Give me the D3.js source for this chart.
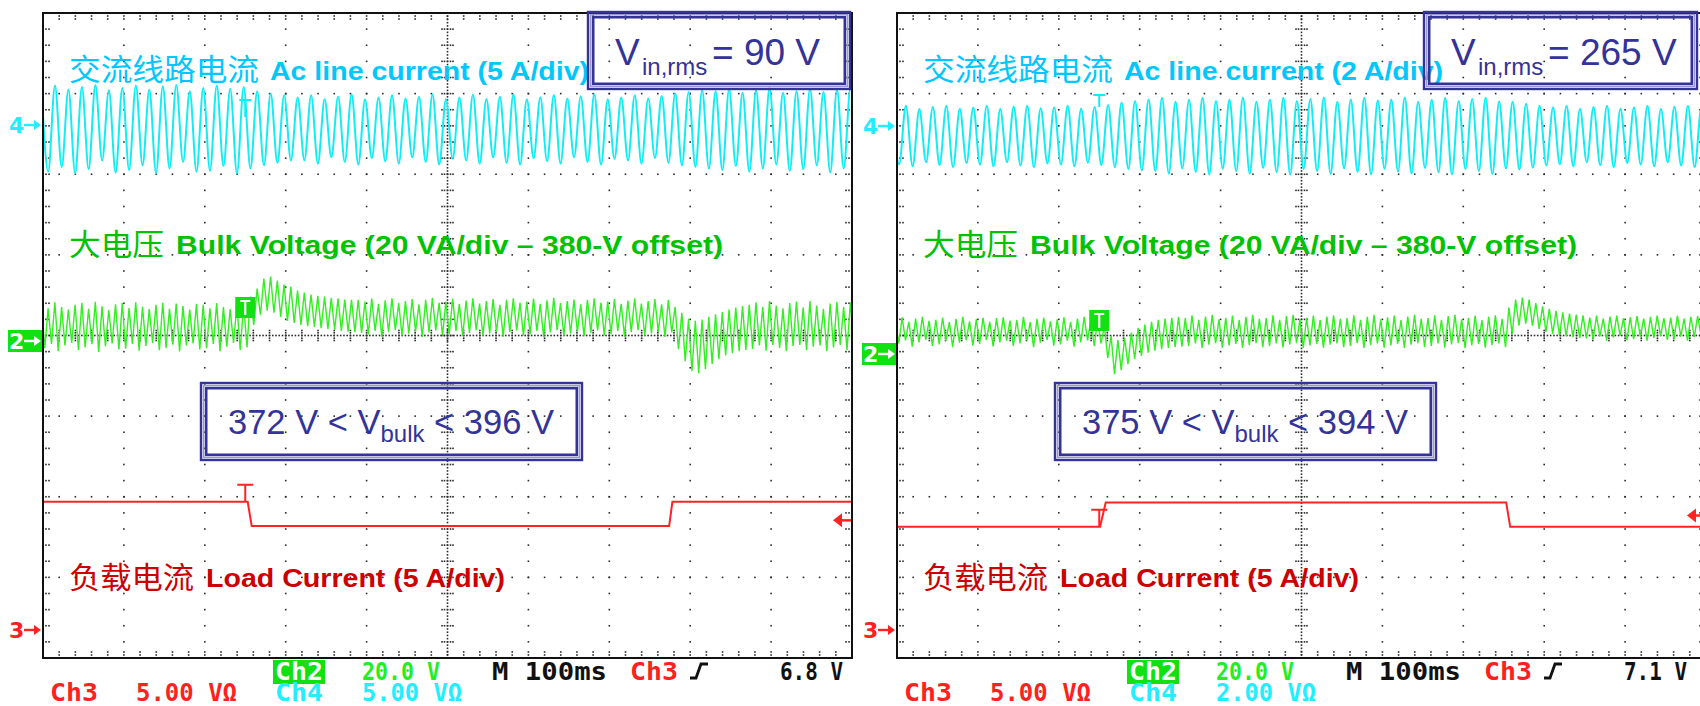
<!DOCTYPE html>
<html>
<head>
<meta charset="utf-8">
<script src="https://cdn.jsdelivr.net/npm/d3@7"></script>
<style>
  html, body { margin: 0; padding: 0; background: #fff; }
  svg { display: block; }
</style>
</head>
<body>
<svg id="scope" width="1700" height="706"></svg>
<script>
// ---------------- acquisition settings ----------------
const timeDomainMs = [0, 1000];          // 10 div x 100 ms
const triggerMs = 250;                   // trigger at 2.5 div
const lineFreqHz = 60;
const rippleFreqHz = 120;

const vinRms = [90, 265];                // V rms input
const acScaleA = [5, 2];                 // Ch4, A/div
const bulkScaleV = 20;                   // Ch2, V/div
const bulkOffsetV = 380;                 // Ch2 offset
const loadScaleA = 5;                    // Ch3, A/div
const trigLevel = [6.8, 7.1];            // Ch3 trigger level
const bulkRange = [[372, 396], [375, 394]];

// Ch4 line current: crest / trough per line cycle (A)
const acFirstPeakMs = [-1.9, -5.7];
const acPeaks90 = [2.30, 2.45, 2.20, 2.35, 2.48, 2.15, 2.30, 2.45, 2.20, 2.40, 2.48, 2.10, 2.30, 2.45, 2.25, 2.35,
  2.10, 1.95, 1.85,
  1.70, 1.85, 1.60, 1.75, 1.90, 1.60, 1.70, 1.85, 1.65, 1.75, 1.90, 1.60, 1.70, 1.88, 1.62, 1.75, 1.90, 1.60, 1.72, 1.86, 1.65, 1.78, 1.90, 1.60, 1.70, 1.85, 1.65, 1.80,
  1.95, 2.05, 2.15,
  2.10, 2.25, 2.00, 2.15, 2.30, 2.00, 2.10, 2.25, 2.05, 2.20, 2.30];
const acTroughs90 = [-2.90, -2.60, -3.00, -2.75, -2.20, -2.95, -2.80, -2.50, -3.00, -2.70, -2.30, -2.90, -2.85, -2.55, -3.00, -2.70,
  -2.50, -2.35, -2.20,
  -2.20, -2.40, -2.00, -2.30, -2.45, -2.05, -2.25, -2.40, -2.00, -2.30, -2.45, -2.10, -2.20, -2.40, -2.00, -2.35, -2.45, -2.05, -2.25, -2.40, -2.00, -2.30, -2.45, -2.10, -2.20, -2.40, -2.05, -2.35,
  -2.50, -2.60, -2.70,
  -2.80, -2.55, -2.90, -2.70, -2.45, -2.85, -2.75, -2.50, -2.95, -2.70, -2.60];
const acPeaks265 = [0.45, 0.50, 0.42, 0.47, 0.50, 0.43, 0.46, 0.50, 0.42, 0.48, 0.50, 0.44, 0.46, 0.50, 0.43, 0.47,
  0.52, 0.58, 0.62,
  0.66, 0.70, 0.60, 0.65, 0.70, 0.62, 0.66, 0.71, 0.60, 0.65, 0.70, 0.62, 0.67, 0.71, 0.60, 0.66, 0.70, 0.63, 0.66, 0.71, 0.60, 0.65, 0.70, 0.62, 0.67, 0.70, 0.61,
  0.60, 0.55, 0.50,
  0.46, 0.50, 0.42, 0.47, 0.50, 0.43, 0.46, 0.50, 0.42, 0.48, 0.50, 0.44];
const acTroughs265 = [-0.95, -1.00, -0.90, -0.97, -1.02, -0.92, -0.96, -1.00, -0.90, -0.98, -1.02, -0.93, -0.96, -1.00, -0.91, -0.97,
  -1.02, -1.07, -1.10,
  -1.12, -1.18, -1.05, -1.14, -1.20, -1.06, -1.12, -1.18, -1.04, -1.15, -1.20, -1.07, -1.12, -1.19, -1.05, -1.14, -1.20, -1.06, -1.13, -1.18, -1.04, -1.15, -1.20, -1.07, -1.12, -1.19, -1.05,
  -1.08, -1.03, -0.98,
  -0.95, -1.00, -0.90, -0.97, -1.02, -0.92, -0.96, -1.00, -0.90, -0.98, -1.02, -0.93];

// Ch2 bulk voltage: crest / trough per ripple cycle (V)
const bulkFirstPeakMs = [-2, -2];
const bulkPeaks90 = [389.2, 388.1, 389.6, 388.4, 387.8, 389.0, 389.5, 388.0, 389.7, 388.6, 387.7, 389.1, 389.4, 388.2, 389.6, 388.5, 387.9, 389.0, 389.5, 388.0, 389.3, 388.7, 387.8, 389.2, 389.0, 388.1, 389.4, 388.4, 387.9, 388.8, 389.1,
  391.0, 393.0, 395.5, 396.0, 395.0, 394.0, 393.5, 392.5, 392.0, 391.5, 391.2, 391.0, 390.7, 390.5, 390.3, 390.2, 390.2,
  389.8, 390.5, 389.2, 390.1, 390.6, 389.4, 389.9, 390.4, 389.1, 390.2, 390.7, 389.5, 389.8, 390.5, 389.2, 390.0, 390.6, 389.3, 389.9, 390.4, 389.0, 390.2, 390.6, 389.5, 389.8, 390.5, 389.2, 390.1, 390.7, 389.4, 389.9, 390.3, 389.1, 390.2, 390.6, 389.5, 389.8, 390.4, 389.2, 390.0, 390.6, 389.3, 389.9, 390.4, 389.1, 390.2,
  388.5, 387.0, 385.5, 385.0, 385.3, 386.0, 386.6, 387.2, 387.8, 388.3, 388.7, 389.0,
  389.6, 388.4, 389.9, 388.7, 388.1, 389.4, 389.8, 388.3, 389.9, 388.8, 388.0, 389.3, 389.7, 388.4, 389.6];
const bulkTroughs90 = [378.2, 379.3, 377.5, 378.9, 379.5, 377.8, 378.4, 379.2, 377.3, 378.7, 379.4, 377.9, 378.1, 379.3, 377.6, 378.8, 379.5, 377.7, 378.3, 379.1, 377.4, 378.9, 379.4, 377.9, 378.2, 379.3, 377.5, 378.6, 379.5, 377.8, 378.4,
  384.0, 386.5, 387.5, 387.0, 386.0, 385.0, 384.5, 384.0, 383.7, 383.5, 383.2, 383.0, 382.8, 382.5, 382.3, 382.2, 382.0,
  381.6, 382.5, 381.1, 382.2, 382.7, 381.3, 381.8, 382.4, 381.0, 382.1, 382.6, 381.4, 381.7, 382.5, 381.2, 382.0, 382.7, 381.3, 381.9, 382.3, 381.1, 382.2, 382.6, 381.4, 381.6, 382.5, 381.0, 382.1, 382.7, 381.3, 381.8, 382.4, 381.2, 382.0, 382.6, 381.4, 381.7, 382.5, 381.1, 382.2, 382.7, 381.3, 381.9, 382.3, 381.0, 382.1,
  378.0, 375.0, 372.5, 372.0, 373.0, 374.3, 375.5, 376.4, 377.0, 377.5, 377.8, 378.0,
  378.9, 377.6, 379.0, 378.3, 377.5, 378.8, 379.0, 377.7, 378.6, 378.9, 377.5, 378.4, 379.0, 377.8, 378.7];
const bulkPeaks265 = [388.6, 389.1, 388.0, 388.8, 389.2, 388.2, 388.5, 389.0, 387.9, 388.7, 389.2, 388.1, 388.6, 389.0, 388.0, 388.9, 389.1, 388.3, 388.5, 389.2, 387.9, 388.7, 389.0, 388.1, 388.6, 389.1, 388.0, 388.8, 389.2, 388.2, 388.5,
  387.0, 384.5, 383.5, 384.0, 385.3, 386.5, 387.3, 388.0, 388.5, 388.8, 389.0, 389.2,
  388.9, 389.6, 388.5, 389.3, 389.7, 388.6, 389.0, 389.5, 388.4, 389.2, 389.7, 388.7, 388.9, 389.6, 388.5, 389.4, 389.7, 388.6, 389.0, 389.5, 388.4, 389.3, 389.6, 388.7, 388.9, 389.6, 388.5, 389.2, 389.7, 388.6, 389.1, 389.5, 388.4, 389.3, 389.7, 388.7, 388.9, 389.6, 388.5, 389.4, 389.7, 388.6, 389.0, 389.5, 388.4, 389.2, 389.6, 388.7,
  391.5, 393.5, 394.0, 393.5, 392.6, 391.8, 391.2, 390.7, 390.3, 390.0, 389.8, 389.6,
  389.0, 389.5, 388.8, 389.3, 389.5, 388.9, 389.1, 389.4, 388.8, 389.2, 389.5, 388.9, 389.0, 389.5, 388.8, 389.3, 389.4, 388.9];
const bulkTroughs265 = [382.6, 383.4, 381.8, 382.9, 383.5, 382.0, 382.4, 383.3, 381.7, 382.8, 383.4, 382.1, 382.5, 383.5, 381.9, 382.9, 383.3, 382.0, 382.6, 383.4, 381.7, 382.8, 383.5, 382.1, 382.4, 383.3, 381.8, 382.9, 383.4, 382.0, 382.6,
  379.0, 375.0, 376.0, 377.5, 378.8, 379.5, 380.3, 380.8, 381.2, 381.5, 381.7, 381.8,
  382.0, 382.6, 381.5, 382.3, 382.7, 381.6, 382.1, 382.5, 381.5, 382.2, 382.7, 381.7, 382.0, 382.6, 381.6, 382.4, 382.7, 381.5, 382.1, 382.5, 381.6, 382.3, 382.6, 381.7, 382.0, 382.7, 381.5, 382.2, 382.6, 381.6, 382.1, 382.5, 381.5, 382.3, 382.7, 381.7, 382.0, 382.6, 381.6, 382.4, 382.7, 381.5, 382.1, 382.5, 381.6, 382.2, 382.6, 381.7,
  385.0, 387.0, 387.5, 387.0, 386.2, 385.5, 385.0, 384.7, 384.4, 384.2, 384.0, 383.9,
  383.6, 384.4, 383.3, 384.1, 384.5, 383.4, 383.7, 384.3, 383.3, 384.0, 384.5, 383.5, 383.6, 384.4, 383.3, 384.2, 384.5, 383.4];

// Ch3 load current steps: [ms, A]
const load90 = [[0, 7.95], [253, 7.95], [258, 6.45], [774, 6.45], [778, 7.95], [1000, 7.95]];
const load265 = [[0, 6.4], [251, 6.4], [258, 7.9], [753, 7.9], [758, 6.4], [1000, 6.4]];

// text content
const acLabelCn = "交流线路电流";
const acLabelEn = ["Ac line current (5 A/div)", "Ac line current (2 A/div)"];
const bulkLabelCn = "大电压";
const bulkLabelEn = "Bulk Voltage (20 VA/div – 380-V offset)";
const loadLabelCn = "负载电流";
const loadLabelEn = "Load Current (5 A/div)";
const readoutRow1 = [
  ["Ch2", "20.0 V", "M 100ms", "Ch3", "6.8 V"],
  ["Ch2", "20.0 V", "M 100ms", "Ch3", "7.1 V"]
];
const readoutRow2 = [
  ["Ch3", "5.00 VΩ", "Ch4", "5.00 VΩ"],
  ["Ch3", "5.00 VΩ", "Ch4", "2.00 VΩ"]
];

// ---------------- layout ----------------
const W = 1700, H = 706;
const panelLeft = [43, 897];
const panelTop = 13, panelW = 809, panelH = 645;
const divX = panelW / 10, divY = panelH / 8;
const ch4Zero = [125, 126];
const ch2Zero = [341, 354];
const ch3Zero = [630, 630];
const trigReadX = [737, 727];

const C = {
  grid: "#2b2b2b",
  cyanTrace: "#12ecf4",
  cyanText: "#00c8ff",
  cyanRead: "#22eeff",
  greenTrace: "#33ee22",
  greenText: "#00c200",
  greenBox: "#11e011",
  greenRead: "#22ee22",
  redTrace: "#ff2323",
  redText: "#cc0000",
  redRead: "#ff2020",
  navy: "#333399",
  navyLight: "#9a9acc",
  black: "#111"
};

const acData = [[acPeaks90, acTroughs90], [acPeaks265, acTroughs265]];
const bulkData = [[bulkPeaks90, bulkTroughs90], [bulkPeaks265, bulkTroughs265]];
const loadData = [load90, load265];

const svg = d3.select("#scope");
svg.append("rect").attr("width", W).attr("height", H).attr("fill", "#fff");

function drawGraticule(g, x0, y0) {
  const dots = [];
  for (let i = 1; i < 10; i++) for (let j = 1; j < 40; j++) dots.push([x0 + i * divX, y0 + j * divY / 5]);
  for (let j = 1; j < 8; j++) for (let i = 1; i < 50; i++) dots.push([x0 + i * divX / 5, y0 + j * divY]);
  // centre cross: fine dots + cross ticks
  for (let j = 1; j < 200; j++) dots.push([x0 + 5 * divX, y0 + j * divY / 25]);
  for (let i = 1; i < 250; i++) dots.push([x0 + i * divX / 25, y0 + 4 * divY]);
  for (let j = 1; j < 40; j++) {
    const yy = y0 + j * divY / 5;
    [-5.5, -3, 3, 5.5].forEach(o => dots.push([x0 + 5 * divX + o, yy]));
  }
  for (let i = 1; i < 50; i++) {
    const xx = x0 + i * divX / 5;
    [-5, -2.7, 2.7, 5].forEach(o => dots.push([xx, y0 + 4 * divY + o]));
  }
  // frame ticks
  for (let i = 1; i < 50; i++) {
    const xx = x0 + i * divX / 5;
    dots.push([xx, y0 + 3], [xx, y0 + 6], [xx, y0 + panelH - 3], [xx, y0 + panelH - 6]);
  }
  for (let j = 1; j < 40; j++) {
    const yy = y0 + j * divY / 5;
    dots.push([x0 + 3, yy], [x0 + 6, yy], [x0 + panelW - 3, yy], [x0 + panelW - 6, yy]);
  }
  g.append("g").selectAll("rect").data(dots).join("rect")
    .attr("x", d => d[0] - 0.8).attr("y", d => d[1] - 0.8)
    .attr("width", 1.6).attr("height", 1.6).attr("fill", C.grid);
  g.append("rect").attr("x", x0).attr("y", y0).attr("width", panelW).attr("height", panelH)
    .attr("fill", "none").attr("stroke", C.black).attr("stroke-width", 2);
}

function chanMarker(g, x0, y, label, color, boxed) {
  if (boxed) {
    g.append("rect").attr("x", x0 - 35).attr("y", y - 11).attr("width", 34).attr("height", 22).attr("fill", C.greenBox);
  }
  const fg = boxed ? "#fff" : color;
  g.append("text").attr("x", x0 - 34).attr("y", y + 8).text(label)
    .attr("font-family", "DejaVu Sans").attr("font-size", 22).attr("font-weight", 700).attr("fill", fg);
  g.append("line").attr("x1", x0 - 19).attr("x2", x0 - 6).attr("y1", y).attr("y2", y)
    .attr("stroke", fg).attr("stroke-width", 2.4);
  g.append("path").attr("d", `M${x0 - 2},${y} L${x0 - 9},${y - 5} L${x0 - 9},${y + 5} Z`).attr("fill", fg);
}

function doubleFrame(g, x, y, w, h) {
  g.append("rect").attr("x", x).attr("y", y).attr("width", w).attr("height", h)
    .attr("fill", "none").attr("stroke", C.navy).attr("stroke-width", 2.4);
  g.append("rect").attr("x", x + 2.6).attr("y", y + 2.6).attr("width", w - 5.2).attr("height", h - 5.2)
    .attr("fill", "none").attr("stroke", C.navyLight).attr("stroke-width", 1.6);
  g.append("rect").attr("x", x + 5.2).attr("y", y + 5.2).attr("width", w - 10.4).attr("height", h - 10.4)
    .attr("fill", "none").attr("stroke", C.navy).attr("stroke-width", 2.6);
}

function label(g, x, y, txt, opts) {
  const t = g.append("text").attr("x", x).attr("y", y).text(txt)
    .attr("font-family", opts.family).attr("font-size", opts.size)
    .attr("font-weight", opts.weight || 400).attr("fill", opts.color);
  if (opts.len) t.attr("textLength", opts.len).attr("lengthAdjust", "spacingAndGlyphs");
  return t;
}

const CN = "Noto Sans CJK SC";
const EN = "Liberation Sans, Arial, sans-serif";
const MONO = "DejaVu Sans Mono, monospace";

[0, 1].forEach(p => {
  const x0 = panelLeft[p];
  const g = svg.append("g");
  const x = d3.scaleLinear().domain(timeDomainMs).range([x0, x0 + panelW]);
  const yAc = d3.scaleLinear().domain([0, acScaleA[p]]).range([ch4Zero[p], ch4Zero[p] - divY]);
  const yBulk = d3.scaleLinear().domain([bulkOffsetV, bulkOffsetV + bulkScaleV]).range([ch2Zero[p], ch2Zero[p] - divY]);
  const yLoad = d3.scaleLinear().domain([0, loadScaleA]).range([ch3Zero[p], ch3Zero[p] - divY]);

  drawGraticule(g, x0, panelTop);

  const clipId = "clip" + p;
  svg.append("clipPath").attr("id", clipId).append("rect")
    .attr("x", x0 + 1).attr("y", panelTop + 1).attr("width", panelW - 2).attr("height", panelH - 2);
  const tr = g.append("g").attr("clip-path", `url(#${clipId})`);

  // Ch2 bulk voltage ripple
  const Tr = 1000 / rippleFreqHz;
  const bulkPts = [];
  bulkData[p][0].forEach((v, k) => {
    bulkPts.push({ t: bulkFirstPeakMs[p] + k * Tr, v });
    bulkPts.push({ t: bulkFirstPeakMs[p] + (k + 0.5) * Tr, v: bulkData[p][1][k] });
  });
  tr.append("path").datum(bulkPts)
    .attr("d", d3.line().x(d => x(d.t)).y(d => yBulk(d.v)))
    .attr("fill", "none").attr("stroke", C.greenTrace).attr("stroke-width", 1.4);

  // Ch4 line current
  const Tl = 1000 / lineFreqHz;
  const acPts = [];
  acData[p][0].forEach((v, k) => {
    acPts.push({ t: acFirstPeakMs[p] + k * Tl, v });
    acPts.push({ t: acFirstPeakMs[p] + (k + 0.5) * Tl, v: acData[p][1][k] });
  });
  tr.append("path").datum(acPts)
    .attr("d", d3.line().x(d => x(d.t)).y(d => yAc(d.v)).curve(d3.curveMonotoneX))
    .attr("fill", "none").attr("stroke", C.cyanTrace).attr("stroke-width", 2);

  // Ch3 load current
  tr.append("path").datum(loadData[p])
    .attr("d", d3.line().x(d => x(d[0])).y(d => yLoad(d[1])))
    .attr("fill", "none").attr("stroke", C.redTrace).attr("stroke-width", 2);

  // trigger-point indicators
  const xt = x(triggerMs);
  const cyT = p === 0 ? [ch4Zero[p] - 25, ch4Zero[p] - 8] : [ch4Zero[p] - 31, ch4Zero[p] - 19];
  g.append("path").attr("d", `M${xt - 6},${cyT[0]} H${xt + 6} M${xt},${cyT[0]} V${cyT[1]}`)
    .attr("stroke", C.cyanTrace).attr("stroke-width", 2).attr("fill", "none");
  const loadAtTrig = loadData[p][0][1];
  const ry = yLoad(loadAtTrig);
  g.append("path").attr("d", `M${xt - 8},${ry - 17} H${xt + 8} M${xt},${ry - 17} V${ry}`)
    .attr("stroke", C.redTrace).attr("stroke-width", 2).attr("fill", "none");
  const gy = ch2Zero[p] - 34;
  g.append("rect").attr("x", xt - 10).attr("y", gy - 10).attr("width", 20).attr("height", 21).attr("fill", C.greenBox);
  g.append("path").attr("d", `M${xt - 5},${gy - 6} H${xt + 5} M${xt},${gy - 6} V${gy + 8}`)
    .attr("stroke", "#fff").attr("stroke-width", 2.2).attr("fill", "none");

  // trigger level arrow on right edge
  const ty = yLoad(trigLevel[p]);
  const xr = x0 + panelW;
  g.append("path").attr("d", `M${xr - 19},${ty} L${xr - 10},${ty - 7} L${xr - 10},${ty + 7} Z`).attr("fill", C.redTrace);
  g.append("line").attr("x1", xr - 11).attr("x2", xr - 1).attr("y1", ty).attr("y2", ty)
    .attr("stroke", C.redTrace).attr("stroke-width", 2.5);

  // channel ground markers
  chanMarker(g, x0, ch4Zero[p], "4", C.cyanRead, false);
  chanMarker(g, x0, ch2Zero[p], "2", C.greenBox, true);
  chanMarker(g, x0, ch3Zero[p], "3", C.redRead, false);

  // waveform captions
  label(g, x0 + 26, 80, acLabelCn, { family: CN, size: 30, color: C.cyanText, len: 190 });
  label(g, x0 + 227, 80, acLabelEn[p], { family: EN, size: 25, weight: 700, color: C.cyanText, len: 319 });
  label(g, x0 + 26, 255, bulkLabelCn, { family: CN, size: 30, color: C.greenText, len: 95 });
  label(g, x0 + 133, 254, bulkLabelEn, { family: EN, size: 25, weight: 700, color: C.greenText, len: 547 });
  label(g, x0 + 26, 588, loadLabelCn, { family: CN, size: 30, color: C.redText, len: 125 });
  label(g, x0 + 163, 587, loadLabelEn, { family: EN, size: 25, weight: 700, color: C.redText, len: 299 });

  // input voltage box
  const bx = p === 0 ? 588 : 1424;
  doubleFrame(g, bx, 12, p === 0 ? 262 : 273, 77);
  label(g, bx + 27, 65, "V", { family: EN, size: 37, color: C.navy });
  label(g, bx + 54, 75, "in,rms", { family: EN, size: 24, color: C.navy });
  label(g, bx + 124, 65, `= ${vinRms[p]} V`, { family: EN, size: 37, color: C.navy });

  // bulk range box
  const vx = x0 + 158;
  doubleFrame(g, vx, 383, 381, 77);
  const vt = g.append("text").attr("x", vx + 27).attr("y", 434)
    .attr("font-family", EN).attr("font-size", 34.5).attr("fill", C.navy);
  vt.append("tspan").text(`${bulkRange[p][0]} V < V`);
  vt.append("tspan").attr("font-size", 24).attr("dy", 8).text("bulk");
  vt.append("tspan").attr("dy", -8).text(` < ${bulkRange[p][1]} V`);

  // readouts
  const r1 = readoutRow1[p], r2 = readoutRow2[p];
  const fs = 24, y1 = 680, y2 = 701;
  g.append("rect").attr("x", x0 + 230).attr("y", 660).attr("width", 52).attr("height", 24).attr("fill", C.greenBox);
  label(g, x0 + 232, y1, r1[0], { family: MONO, size: fs, weight: 700, color: "#fff", len: 48 });
  label(g, x0 + 319, y1, r1[1], { family: MONO, size: fs, weight: 700, color: C.greenRead, len: 78 });
  label(g, x0 + 449, y1, r1[2], { family: MONO, size: fs, weight: 700, color: C.black, len: 115 });
  label(g, x0 + 587, y1, r1[3], { family: MONO, size: fs, weight: 700, color: C.redRead, len: 48 });
  g.append("path").attr("d", `M${x0 + 647},${678} h6 L${x0 + 658},${664} h7`)
    .attr("fill", "none").attr("stroke", C.black).attr("stroke-width", 2.8);
  label(g, x0 + trigReadX[p], y1, r1[4], { family: MONO, size: fs, weight: 700, color: C.black, len: 63 });
  label(g, x0 + 7, y2, r2[0], { family: MONO, size: fs, weight: 700, color: C.redRead, len: 48 });
  label(g, x0 + 93, y2, r2[1], { family: MONO, size: fs, weight: 700, color: C.redRead, len: 101 });
  label(g, x0 + 232, y2, r2[2], { family: MONO, size: fs, weight: 700, color: C.cyanRead, len: 48 });
  label(g, x0 + 319, y2, r2[3], { family: MONO, size: fs, weight: 700, color: C.cyanRead, len: 100 });
});
</script>
</body>
</html>
